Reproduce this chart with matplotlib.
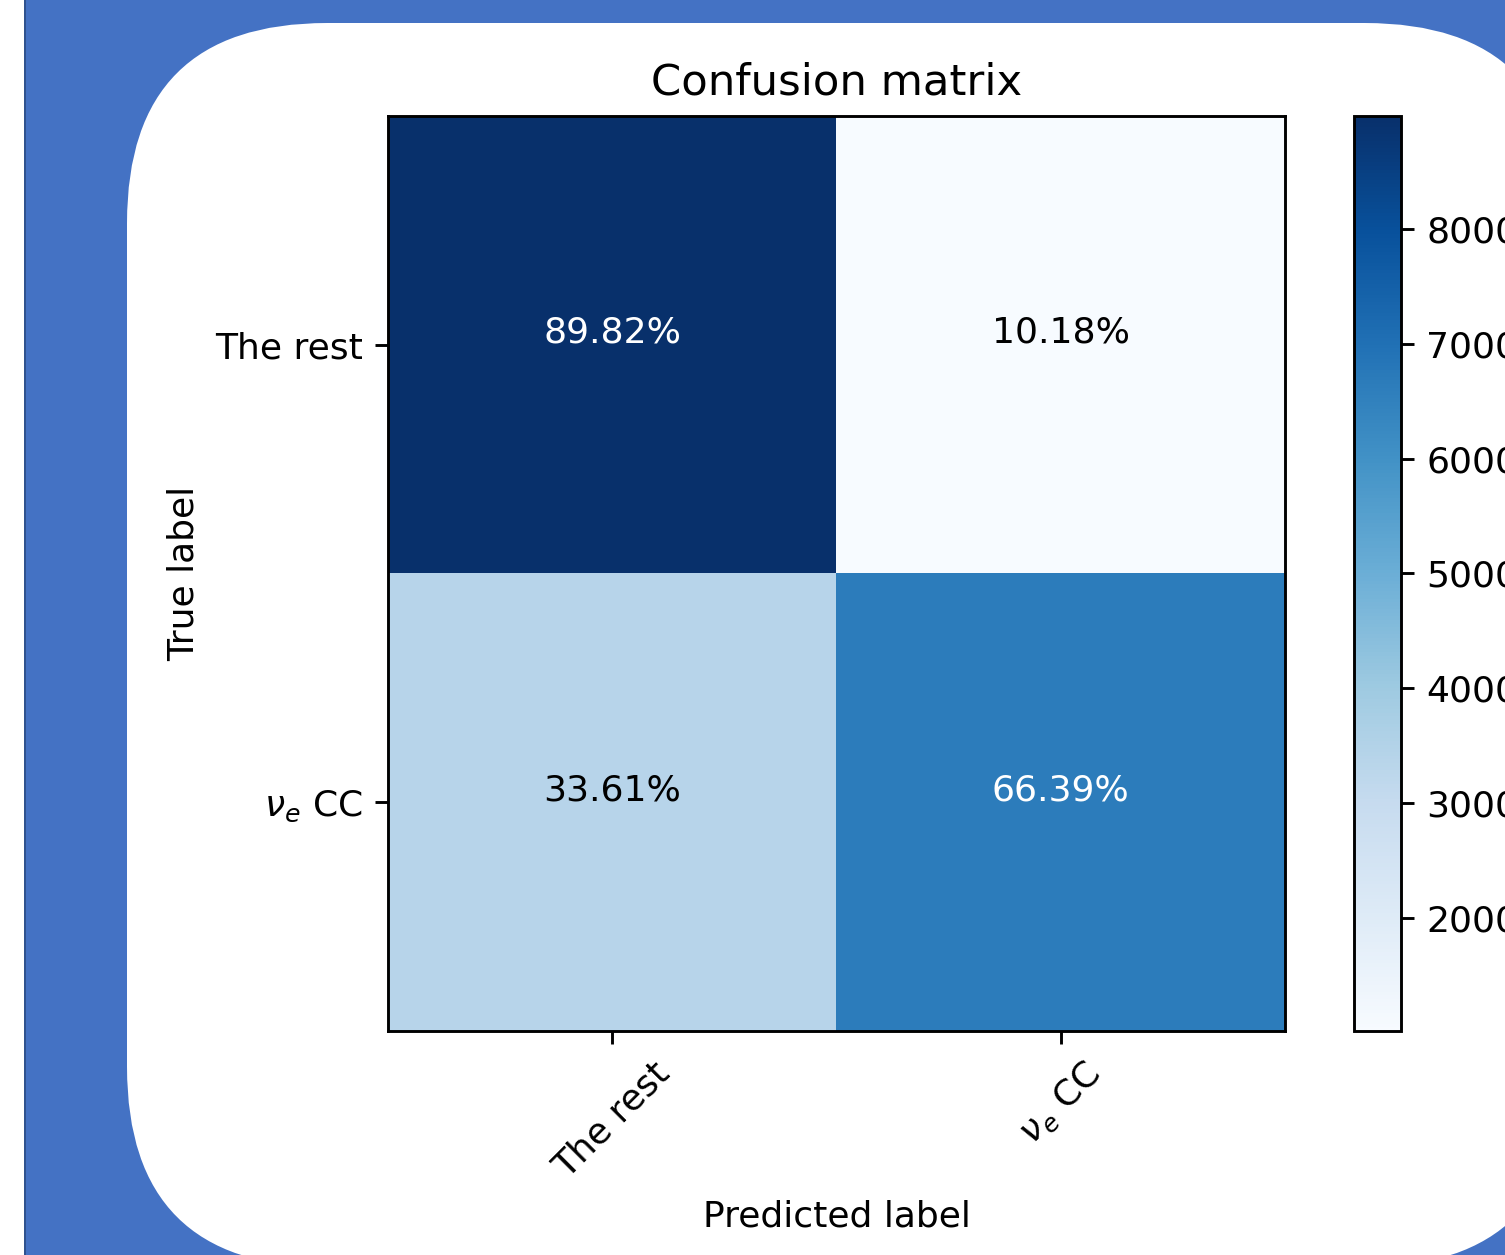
import numpy as np
import matplotlib
matplotlib.use("Agg")
import matplotlib.pyplot as plt
from matplotlib.patches import Rectangle, FancyBboxPatch

# Confusion matrix counts (rows: true label, cols: predicted label)
classes = ["The rest", r"$\nu_e$ CC"]
counts = np.array([[8982, 1018],
                   [3361, 6639]])

# Everything is drawn about 2.6x the usual matplotlib size
s = 2.6
plt.rcParams.update({
    "font.size": 10 * s,
    "axes.titlesize": 12 * s,
    "axes.labelsize": 10 * s,
    "xtick.labelsize": 10 * s,
    "ytick.labelsize": 10 * s,
    "axes.linewidth": 0.8 * s,
    "xtick.major.size": 3.5 * s,
    "ytick.major.size": 3.5 * s,
    "xtick.major.width": 0.8 * s,
    "ytick.major.width": 0.8 * s,
    "xtick.major.pad": 3.5 * s,
    "ytick.major.pad": 3.5 * s,
    "axes.titlepad": 6 * s,
    "axes.labelpad": 4 * s,
})

W, H = 1505, 1255
fig = plt.figure(figsize=(W / 100, H / 100), dpi=100)
fig.patch.set_facecolor("white")

# slide background: blue frame with a rounded white card
bg = fig.add_axes([0, 0, 1, 1], zorder=0)
bg.set_xlim(0, W)
bg.set_ylim(H, 0)
bg.axis("off")
bg.add_patch(Rectangle((25, -10), W, H + 20, facecolor="#4472C4", edgecolor="none"))
bg.add_patch(Rectangle((24, -10), 2, H + 20, facecolor="#2F528F", edgecolor="none"))
bg.add_patch(FancyBboxPatch((127 + 200, 23 + 200), 1565 - 127 - 400, 1267 - 23 - 400,
                            boxstyle="round,pad=200", facecolor="white", edgecolor="none"))


def fig_box(x0, y0, x1, y1):
    return [x0 / W, 1 - y1 / H, (x1 - x0) / W, (y1 - y0) / H]


ax = fig.add_axes(fig_box(388, 116, 1285, 1031), zorder=1)
cax = fig.add_axes(fig_box(1354, 116, 1401, 1031), zorder=1)

im = ax.imshow(counts, interpolation="nearest", cmap=plt.cm.Blues, aspect="auto")
ax.set_title("Confusion matrix")
fig.colorbar(im, cax=cax)

ticks = np.arange(len(classes))
ax.set_xticks(ticks)
ax.set_xticklabels(classes, rotation=45)
ax.set_yticks(ticks)
ax.set_yticklabels(classes)

# row-normalised percentages written in each cell
pct = counts / counts.sum(axis=1, keepdims=True) * 100
thresh = counts.max() / 2.0
for i in range(counts.shape[0]):
    for j in range(counts.shape[1]):
        ax.annotate(f"{pct[i, j]:.2f}%", xy=(j, i), xytext=(0, 8.5),
                    textcoords="offset points", ha="center", va="center",
                    color="white" if counts[i, j] > thresh else "black")

ax.set_ylabel("True label")
ax.set_xlabel("Predicted label")

fig.savefig("out.png", dpi=100)
